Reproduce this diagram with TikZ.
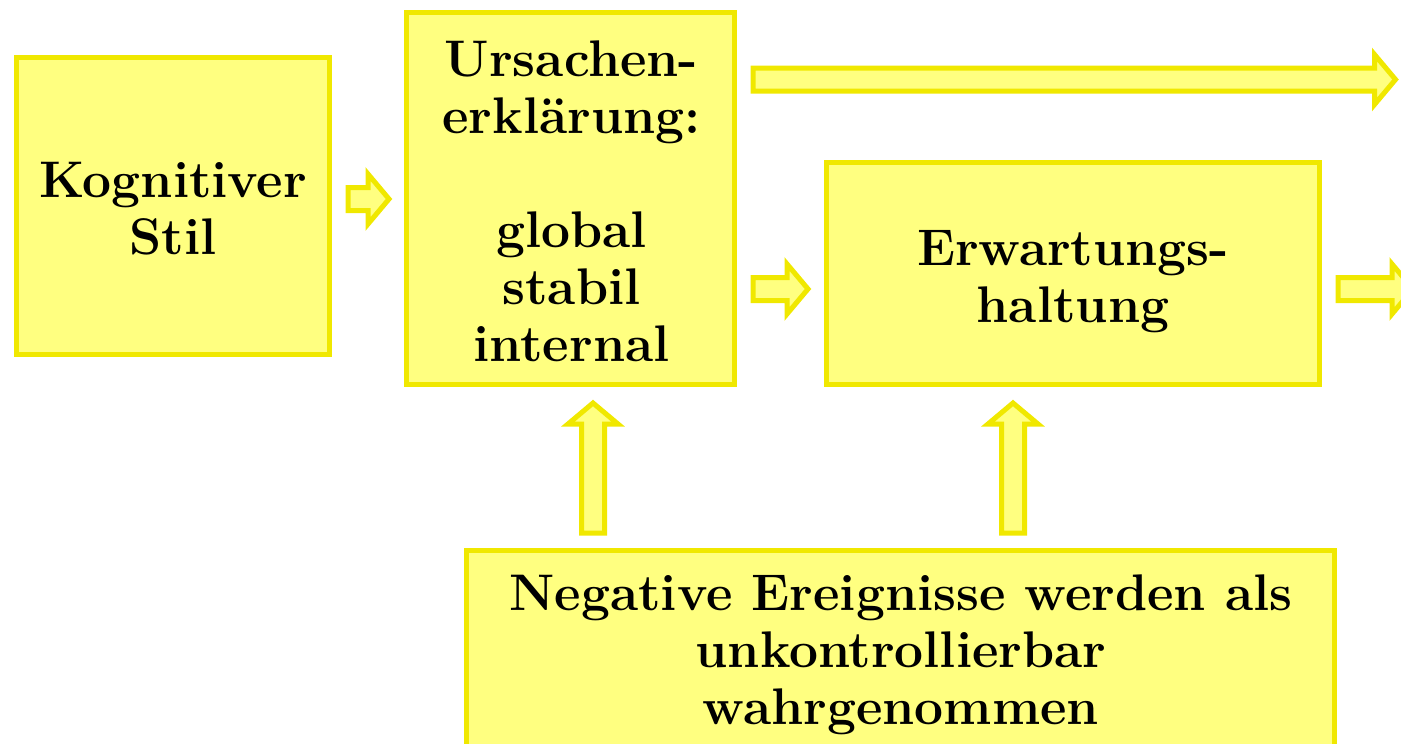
\documentclass[tikz,border=0pt]{standalone}
\usepackage{fontspec}
\usetikzlibrary{calc}
\definecolor{boxfill}{RGB}{255,255,128}
\definecolor{boxline}{RGB}{240,232,0}
\tikzset{
  box/.style={draw=boxline, fill=boxfill, line width=5pt, inner sep=0pt},
  boxtext/.style={align=center, inner sep=0pt, font=\fontsize{51.5}{57}\selectfont\bfseries},
  fat/.style={draw=boxline, fill=boxfill, line width=5pt, line join=miter}
}
\newcommand\fatright[2]{\draw[fat] let \p1=(#1), \p2=(#2) in
  (\x1,\y1+11.5pt) -- (\x2-21pt,\y1+11.5pt) -- (\x2-21pt,\y1+25pt) -- (\x2,\y1)
  -- (\x2-21pt,\y1-25pt) -- (\x2-21pt,\y1-11.5pt) -- (\x1,\y1-11.5pt) -- cycle;}
\newcommand\fatup[2]{\draw[fat] let \p1=(#1), \p2=(#2) in
  (\x1-11.5pt,\y1) -- (\x1-11.5pt,\y2-21pt) -- (\x1-25pt,\y2-21pt) -- (\x1,\y2)
  -- (\x1+25pt,\y2-21pt) -- (\x1+11.5pt,\y2-21pt) -- (\x1+11.5pt,\y1) -- cycle;}
\begin{document}
\begin{tikzpicture}[x=1pt,y=-1pt]
\useasboundingbox (0,0) rectangle (1401,744);
\node[box, minimum width=313pt, minimum height=297pt] (kog) at (173,206) {};
\node[boxtext] (kogt) at (173,209) {Kognitiver\\Stil};
\node[box, minimum width=328pt, minimum height=372pt] (urs) at (570.5,198.5) {};
\node[boxtext] (urst) at (571.5,201) {Ursachen-\\erklärung:\\[57pt]global\\stabil\\internal};
\node[box, minimum width=493pt, minimum height=222pt] (erw) at (1073,273.5) {};
\node[boxtext] (erwt) at (1073,282) {Erwartungs-\\haltung};
\node[box, minimum width=868pt, minimum height=220pt] (neg) at (900.5,660.5) {};
\node[boxtext] (negt) at (901,655) {Negative Ereignisse werden als\\unkontrollierbar\\wahrgenommen};
% connectors
\coordinate (a1s) at ($(kog.east)+(16,-7)$);
\coordinate (a1e) at ($(urs.west)+(-15,0)$);
\fatright{a1s}{a1e}
\coordinate (a2s) at ($(urs.east)+(16,-119)$);
\coordinate (a2e) at (1395.5,79.5);
\fatright{a2s}{a2e}
\coordinate (a3s) at ($(urs.east)+(16,90.5)$);
\coordinate (a3e) at ($(erw.west)+(-16,15.5)$);
\fatright{a3s}{a3e}
\coordinate (a4s) at ($(erw.east)+(16,15.5)$);
\coordinate (a4e) at (1413,289);
\fatright{a4s}{a4e}
\coordinate (a5s) at ($(neg.north)+(-307.5,-15)$);
\coordinate (a5e) at ($(urs.south)+(22.5,16)$);
\fatup{a5s}{a5e}
\coordinate (a6s) at ($(neg.north)+(112.5,-15)$);
\coordinate (a6e) at ($(erw.south)+(-60,16)$);
\fatup{a6s}{a6e}
\end{tikzpicture}
\end{document}
